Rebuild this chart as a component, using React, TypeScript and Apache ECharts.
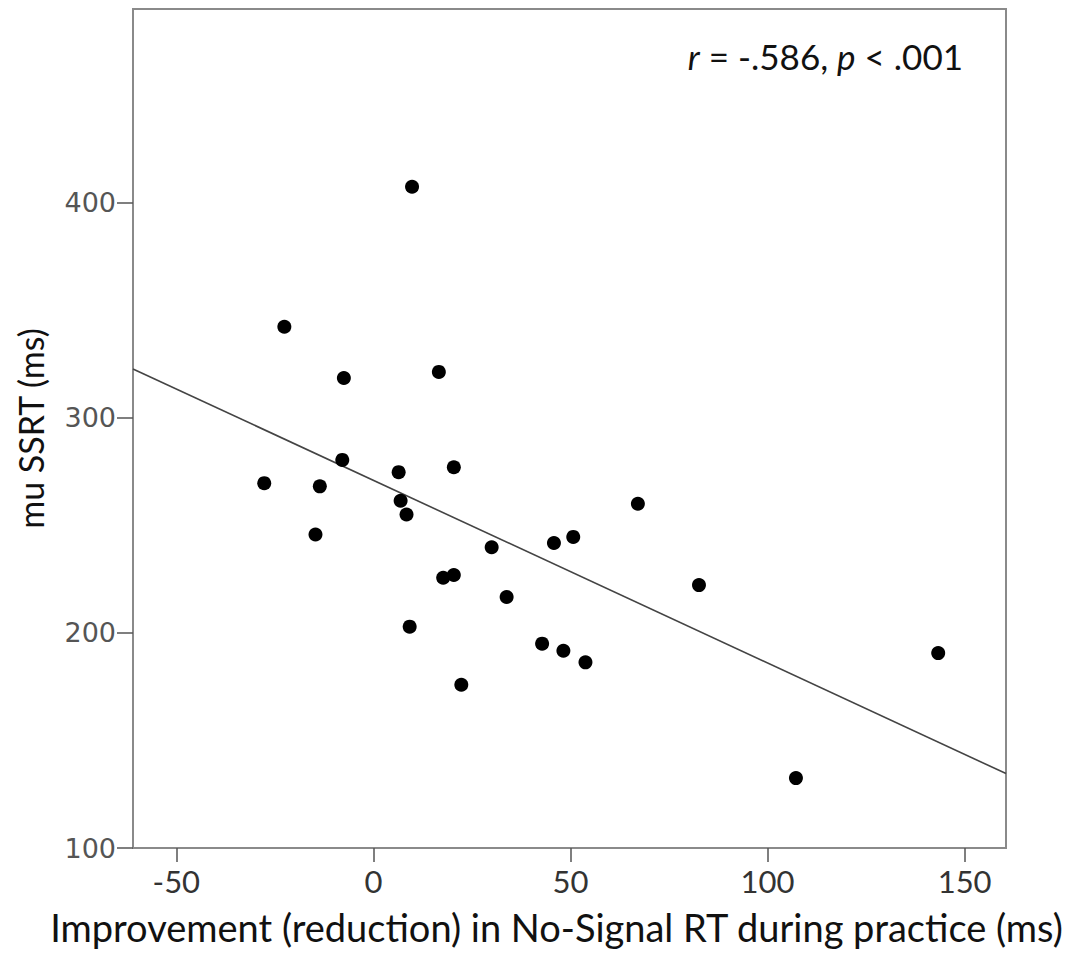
import React, { useEffect, useRef } from "react";
import * as echarts from "echarts";

const improvementMs = [9.8, -22.6, -7.5, 16.6, -7.9, -27.7, -13.6, 6.4, 20.4, 6.9, 8.4, -14.7, 30.0, 45.8, 50.7, 67.1, 17.7, 20.4, 33.8, 82.6, 9.2, 42.8, 48.2, 53.8, 22.3, 143.3, 107.2];
const ssrtMs = [407.4, 342.3, 318.5, 321.3, 280.4, 269.6, 268.1, 274.7, 277.0, 261.4, 255.0, 245.7, 239.8, 241.8, 244.6, 260.0, 225.6, 226.9, 216.7, 222.2, 202.9, 195.0, 191.7, 186.3, 175.9, 190.6, 132.5];
const fitLineX = [-61, 160.5];
const fitLineY = [322.7, 134.6];
const xTicks = [-50, 0, 50, 100, 150];
const yTicks = [100, 200, 300, 400];
const xTitle = "Improvement (reduction) in No-Signal RT during practice (ms)";
const yTitle = "mu SSRT (ms)";

export default function App() {
  const ref = useRef<HTMLDivElement>(null);
  useEffect(() => {
    document.body.style.margin = "0";
    const chart = echarts.init(ref.current!, null, { renderer: "svg" });
    const points = improvementMs.map((x, i) => [x, ssrtMs[i]]);
    const fit = fitLineX.map((x, i) => [x, fitLineY[i]]);
    chart.setOption({
      animation: false,
      backgroundColor: "#ffffff",
      title: {
        text: "{i|r} = -.586, {i|p} < .001",
        right: 115,
        top: 33,
        textStyle: {
          fontFamily: "Lato",
          fontSize: 35,
          fontWeight: "normal",
          color: "#111",
          rich: {
            i: { fontStyle: "italic", fontFamily: "Lato", fontSize: 35, color: "#111" },
          },
        },
      },
      grid: {
        left: 133,
        right: 77,
        top: 9,
        bottom: 111,
        containLabel: false,
        outerBoundsMode: "none",
        show: true,
        borderColor: "#8a8a8a",
        borderWidth: 2,
        backgroundColor: "transparent",
      },
      xAxis: {
        type: "value",
        min: -61,
        max: 160.5,
        name: xTitle,
        nameLocation: "middle",
        nameGap: 60,
        nameTextStyle: { fontFamily: "Lato", fontSize: 38, color: "#111", padding: [0, 26, 0, 0] },
        splitLine: { show: false },
        axisLine: { onZero: false, lineStyle: { color: "#8a8a8a", width: 2 } },
        axisTick: { show: true, inside: false, length: 14, customValues: xTicks, lineStyle: { color: "#555", width: 1.5 } },
        axisLabel: {
          customValues: xTicks,
          margin: 17,
          fontFamily: "Lato",
          fontSize: 31,
          color: "#333",
        },
      },
      yAxis: {
        type: "value",
        min: 100,
        max: 490,
        name: yTitle,
        nameLocation: "middle",
        nameGap: 86,
        nameRotate: 90,
        nameTextStyle: { fontFamily: "Lato", fontSize: 34, color: "#111" },
        splitLine: { show: false },
        axisLine: { onZero: false, lineStyle: { color: "#8a8a8a", width: 2 } },
        axisTick: { show: true, inside: false, length: 16, customValues: yTicks, lineStyle: { color: "#555", width: 1.5 } },
        axisLabel: {
          customValues: yTicks,
          margin: 17,
          fontFamily: "DejaVu Sans",
          fontSize: 27,
          color: "#555",
        },
      },
      series: [
        {
          type: "line",
          data: fit,
          symbol: "none",
          lineStyle: { color: "#444", width: 1.6 },
          silent: true,
          z: 1,
        },
        {
          type: "scatter",
          data: points,
          symbol: "circle",
          symbolSize: 14,
          itemStyle: { color: "#000", opacity: 1 },
          z: 2,
        },
      ],
    });
    return () => chart.dispose();
  }, []);
  return <div ref={ref} style={{ width: 1083, height: 959 }} />;
}
